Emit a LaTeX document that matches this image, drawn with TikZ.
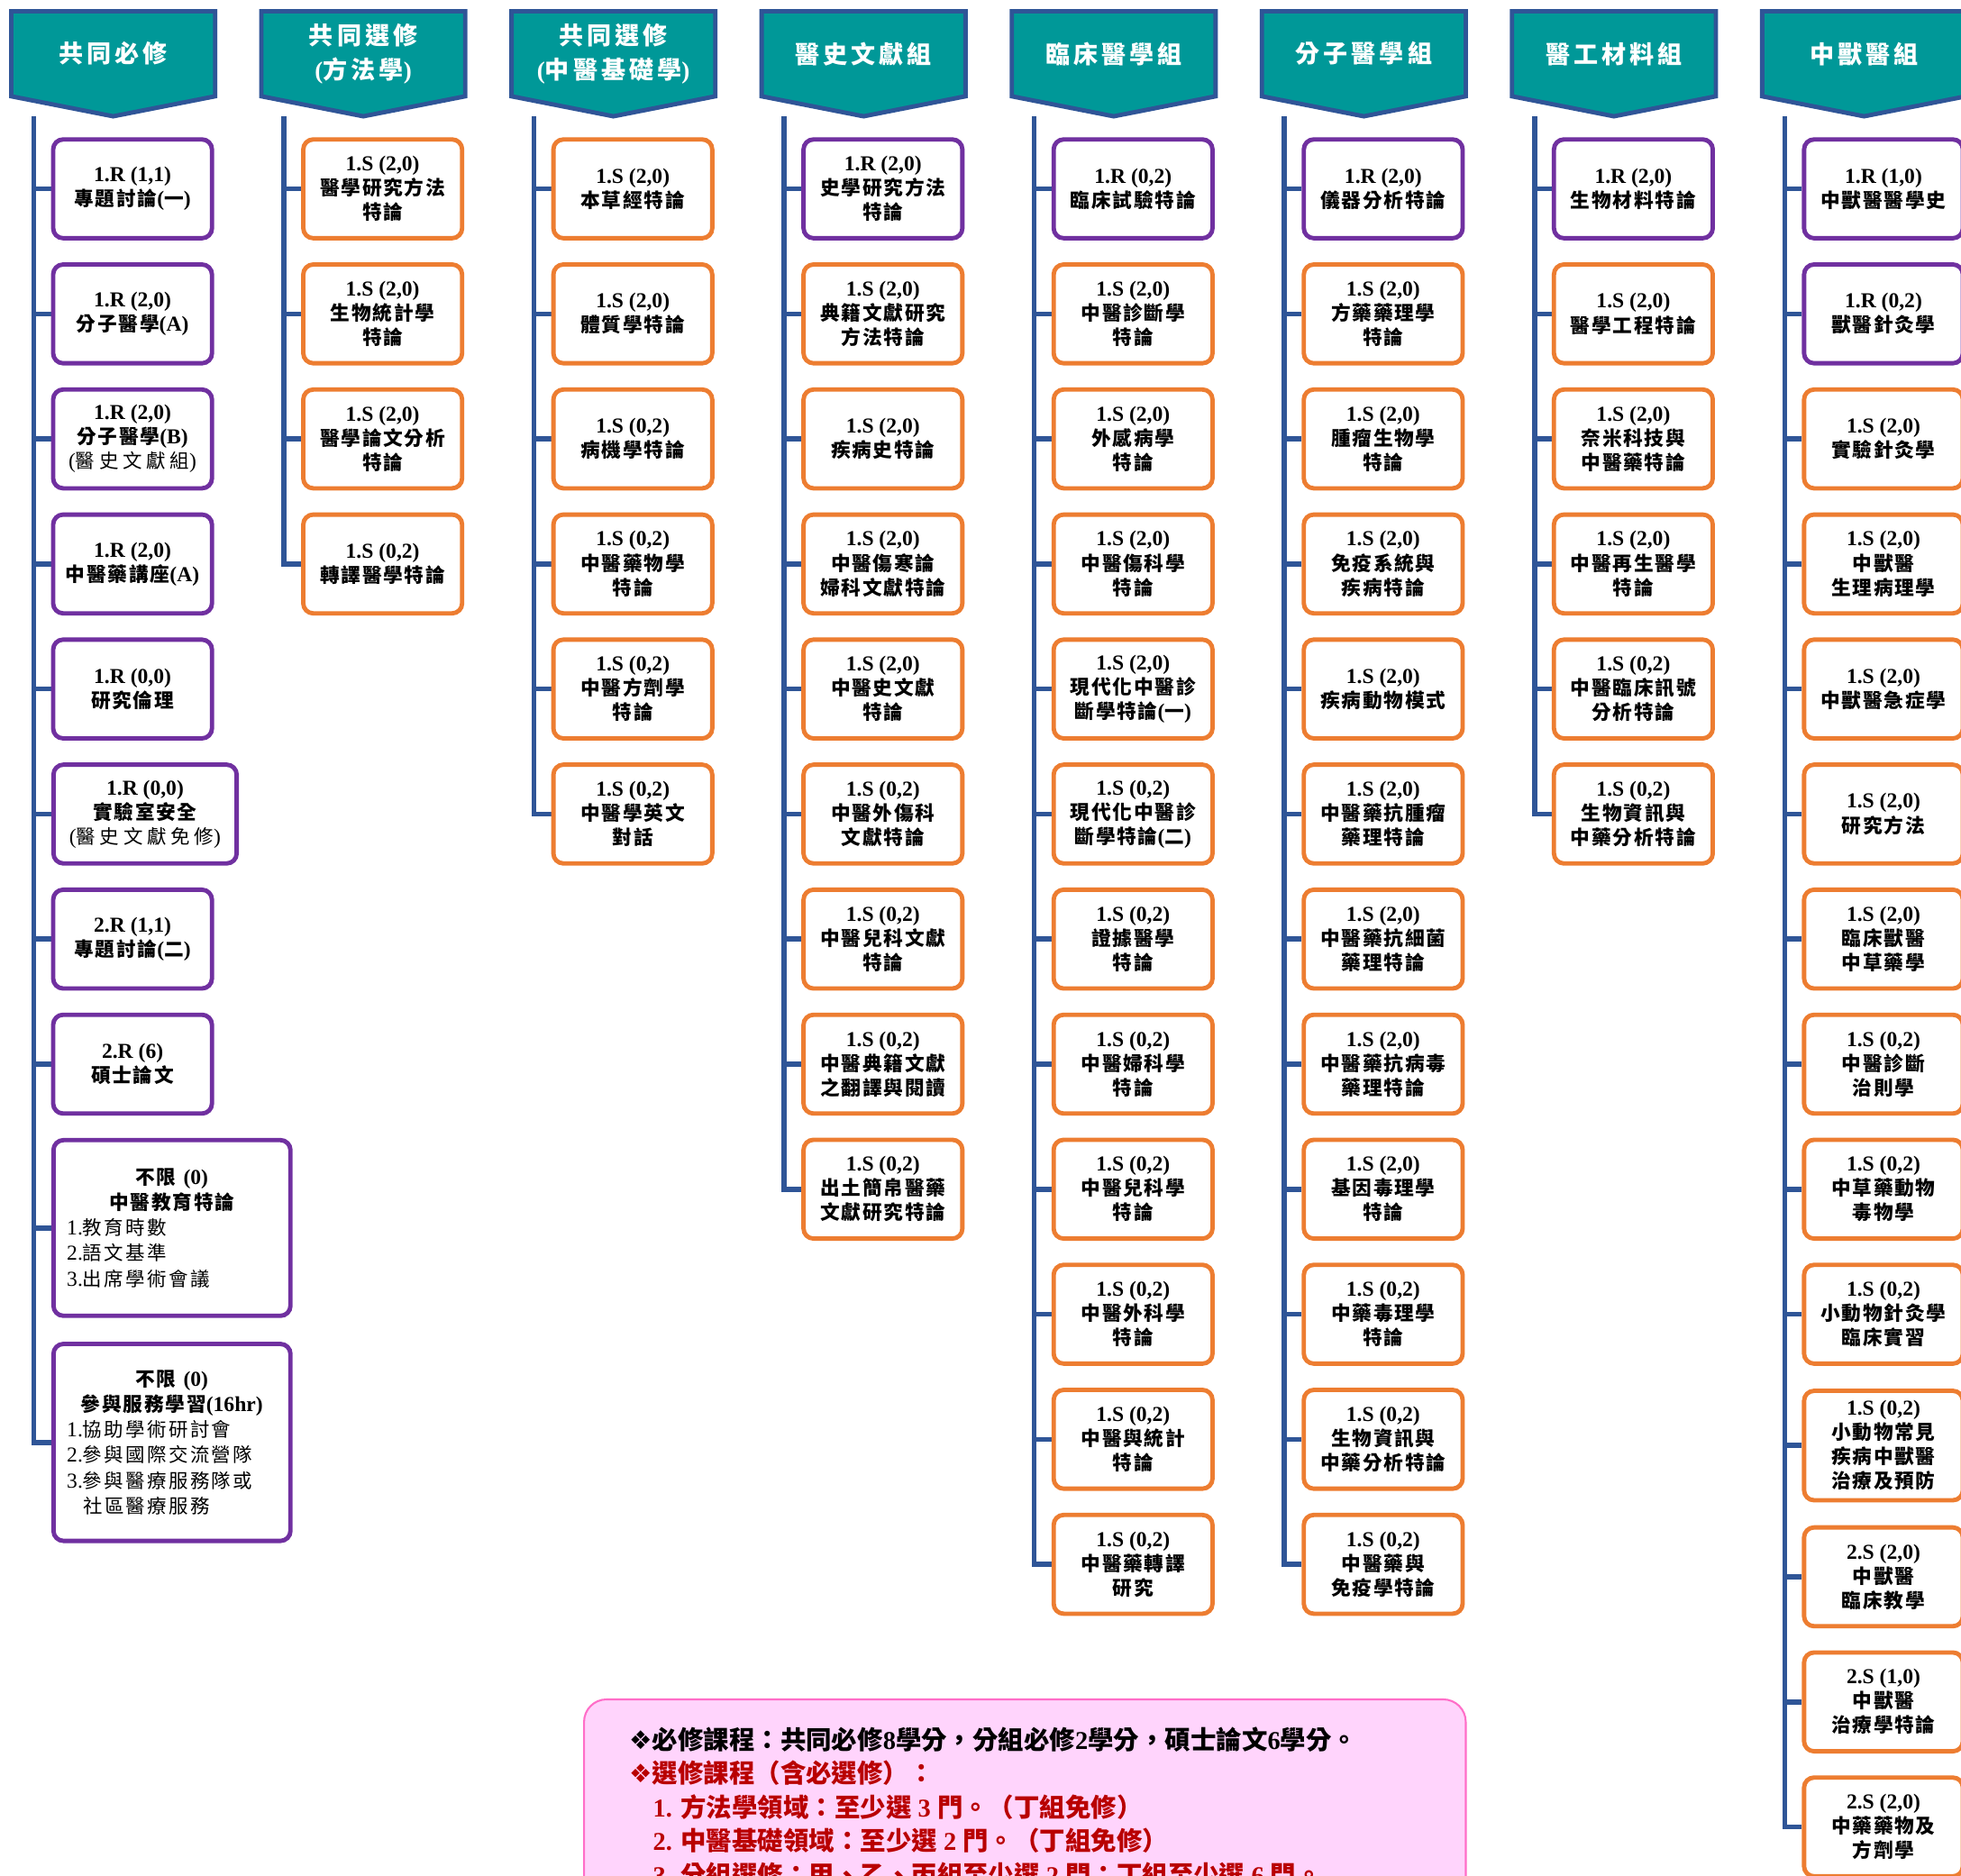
\documentclass[tikz,border=0pt]{standalone}
\usepackage{fontspec}
\setmainfont{Liberation Serif}
\newfontfamily\cjk{Noto Sans CJK TC}[Scale=0.92,LetterSpace=8]
\newfontfamily\cjkw{Noto Sans CJK TC}[Scale=0.91,LetterSpace=11]
\newfontfamily\cjkx{Noto Sans CJK TC}[Scale=0.91,LetterSpace=22]
\newfontfamily\cjkh{Noto Sans CJK TC}[LetterSpace=15]
\newfontfamily\cjkn{Noto Sans CJK TC}
\newfontfamily\symf{DejaVu Sans}
\def\mycjk{\cjk}
\XeTeXinterchartokenstate=1
\newXeTeXintercharclass\CJKcls
\newcount\tmpc
\tmpc="2E80
\loop\ifnum\tmpc<"A000 \XeTeXcharclass\tmpc=\CJKcls \advance\tmpc by 1 \repeat
\tmpc="F900
\loop\ifnum\tmpc<"FB00 \XeTeXcharclass\tmpc=\CJKcls \advance\tmpc by 1 \repeat
\tmpc="FF00
\loop\ifnum\tmpc<"FFF0 \XeTeXcharclass\tmpc=\CJKcls \advance\tmpc by 1 \repeat
\XeTeXinterchartoks 0 \CJKcls={\mycjk}
\XeTeXinterchartoks 4095 \CJKcls={\mycjk}
\XeTeXinterchartoks \CJKcls 0={\rmfamily}
\XeTeXinterchartoks \CJKcls 4095={\rmfamily}

\pgfdeclarelayer{bg}
\pgfsetlayers{bg,main}

\definecolor{hdrteal}{RGB}{0,152,152}
\definecolor{hdrblue}{RGB}{47,85,151}
\definecolor{purp}{RGB}{112,48,160}
\definecolor{orng}{RGB}{237,125,49}
\definecolor{pinkfill}{RGB}{255,212,252}
\definecolor{pinkline}{RGB}{255,110,200}
\definecolor{notered}{RGB}{185,0,0}

\newcommand\hdrfont{\def\mycjk{\cjkh}\fontsize{19.5}{27}\selectfont\bfseries}
\newcommand\crsfont{\fontsize{17}{19.5}\selectfont\bfseries}
\newcommand\bigfont{\fontsize{17}{20.3}\selectfont\bfseries}
\newcommand\notefont{\def\mycjk{\cjkn}\fontsize{20.5}{27}\selectfont\bfseries}
\newcommand\lst{\mdseries\def\mycjk{\cjkw}}
\newcommand\sub{\mdseries\def\mycjk{\cjkx}}

\newcommand\crsR[4]{\node[req] (#1) at (#2,#3) {#4};}
\newcommand\crsS[4]{\node[ele] (#1) at (#2,#3) {#4};}
\newcommand\hdrbox[4]{%
  \draw[hdr] (#2,9) -- ++(163,0) -- ++(0,68) -- ++(-81.5,16) -- ++(-81.5,-16) -- cycle;
  \node[hdrtxt] (#1) at ({#2+81.5},43) {#3};
  \coordinate (#4) at ({#2+18},93);}

\begin{document}
\begin{tikzpicture}[x=1pt,y=-1pt,
  hdr/.style={draw=hdrblue, fill=hdrteal, line width=3.5pt, line join=miter},
  hdrtxt/.style={text=white, align=center, font=\hdrfont, inner sep=0pt},
  spine/.style={draw=hdrblue, line width=4pt},
  course/.style={line width=3.5pt, rounded corners=8pt, fill=white,
    minimum width=127pt, minimum height=79pt, align=center, inner sep=1pt,
    font=\crsfont, text=black},
  req/.style={course, draw=purp},
  ele/.style={course, draw=orng},
  notebox/.style={draw=pinkline, fill=pinkfill, line width=1.5pt, rounded corners=18pt,
    minimum width=705pt, minimum height=240pt, inner sep=0pt},
  notetxt/.style={anchor=base west, inner sep=0pt, font=\notefont},
]
\useasboundingbox (0,0) rectangle (1568,1500);

% headers
\hdrbox{hA}{9}{共同必修}{sA}
\hdrbox{hB}{209}{共同選修\\(方法學)}{sB}
\hdrbox{hC}{409}{共同選修\\(中醫基礎學)}{sC}
\hdrbox{hD}{609}{醫史文獻組}{sD}
\hdrbox{hE}{809}{臨床醫學組}{sE}
\hdrbox{hF}{1009}{分子醫學組}{sF}
\hdrbox{hG}{1209}{醫工材料組}{sG}
\hdrbox{hH}{1409}{中獸醫組}{sH}

% column 1
\crsR{a1}{106}{151}{1.R (1,1)\\專題討論(一)}
\crsR{a2}{106}{251}{1.R (2,0)\\分子醫學(A)}
\crsR{a3}{106}{351}{1.R (2,0)\\分子醫學(B)\\{\sub (醫史文獻組)}}
\crsR{a4}{106}{451}{1.R (2,0)\\中醫藥講座(A)}
\crsR{a5}{106}{551}{1.R (0,0)\\研究倫理}
\node[req, minimum width=146.5pt] (a6) at (116,651) {1.R (0,0)\\實驗室安全\\{\sub (醫史文獻免修)}};
\crsR{a7}{106}{751}{2.R (1,1)\\專題討論(二)}
\crsR{a8}{106}{851}{2.R (6)\\碩士論文}
\node[req, minimum width=189.5pt, minimum height=140.5pt, text width=168pt, align=left, font=\bigfont] (a9) at (137.5,982)
  {\makebox[\linewidth]{不限 (0)}\\\makebox[\linewidth]{中醫教育特論}\\{\lst 1.教育時數\\2.語文基準\\3.出席學術會議}};
\node[req, minimum width=189.5pt, minimum height=157.5pt, text width=168pt, align=left, font=\bigfont] (a10) at (137.5,1153.5)
  {\makebox[\linewidth]{不限 (0)}\\\makebox[\linewidth]{參與服務學習(16hr)}\\{\lst 1.協助學術研討會\\2.參與國際交流營隊\\3.參與醫療服務隊或\\\hspace*{13pt}社區醫療服務}};

% column 2
\crsS{b1}{306}{151}{1.S (2,0)\\醫學研究方法\\特論}
\crsS{b2}{306}{251}{1.S (2,0)\\生物統計學\\特論}
\crsS{b3}{306}{351}{1.S (2,0)\\醫學論文分析\\特論}
\crsS{b4}{306}{451}{1.S (0,2)\\轉譯醫學特論}

% column 3
\crsS{c1}{506}{151}{1.S (2,0)\\本草經特論}
\crsS{c2}{506}{251}{1.S (2,0)\\體質學特論}
\crsS{c3}{506}{351}{1.S (0,2)\\病機學特論}
\crsS{c4}{506}{451}{1.S (0,2)\\中醫藥物學\\特論}
\crsS{c5}{506}{551}{1.S (0,2)\\中醫方劑學\\特論}
\crsS{c6}{506}{651}{1.S (0,2)\\中醫學英文\\對話}

% column 4
\crsR{d1}{706}{151}{1.R (2,0)\\史學研究方法\\特論}
\crsS{d2}{706}{251}{1.S (2,0)\\典籍文獻研究\\方法特論}
\crsS{d3}{706}{351}{1.S (2,0)\\疾病史特論}
\crsS{d4}{706}{451}{1.S (2,0)\\中醫傷寒論\\婦科文獻特論}
\crsS{d5}{706}{551}{1.S (2,0)\\中醫史文獻\\特論}
\crsS{d6}{706}{651}{1.S (0,2)\\中醫外傷科\\文獻特論}
\crsS{d7}{706}{751}{1.S (0,2)\\中醫兒科文獻\\特論}
\crsS{d8}{706}{851}{1.S (0,2)\\中醫典籍文獻\\之翻譯與閱讀}
\crsS{d9}{706}{951}{1.S (0,2)\\出土簡帛醫藥\\文獻研究特論}

% column 5
\crsR{e1}{906}{151}{1.R (0,2)\\臨床試驗特論}
\crsS{e2}{906}{251}{1.S (2,0)\\中醫診斷學\\特論}
\crsS{e3}{906}{351}{1.S (2,0)\\外感病學\\特論}
\crsS{e4}{906}{451}{1.S (2,0)\\中醫傷科學\\特論}
\crsS{e5}{906}{551}{1.S (2,0)\\現代化中醫診\\斷學特論(一)}
\crsS{e6}{906}{651}{1.S (0,2)\\現代化中醫診\\斷學特論(二)}
\crsS{e7}{906}{751}{1.S (0,2)\\證據醫學\\特論}
\crsS{e8}{906}{851}{1.S (0,2)\\中醫婦科學\\特論}
\crsS{e9}{906}{951}{1.S (0,2)\\中醫兒科學\\特論}
\crsS{e10}{906}{1051}{1.S (0,2)\\中醫外科學\\特論}
\crsS{e11}{906}{1151}{1.S (0,2)\\中醫與統計\\特論}
\crsS{e12}{906}{1251}{1.S (0,2)\\中醫藥轉譯\\研究}

% column 6
\crsR{f1}{1106}{151}{1.R (2,0)\\儀器分析特論}
\crsS{f2}{1106}{251}{1.S (2,0)\\方藥藥理學\\特論}
\crsS{f3}{1106}{351}{1.S (2,0)\\腫瘤生物學\\特論}
\crsS{f4}{1106}{451}{1.S (2,0)\\免疫系統與\\疾病特論}
\crsS{f5}{1106}{551}{1.S (2,0)\\疾病動物模式}
\crsS{f6}{1106}{651}{1.S (2,0)\\中醫藥抗腫瘤\\藥理特論}
\crsS{f7}{1106}{751}{1.S (2,0)\\中醫藥抗細菌\\藥理特論}
\crsS{f8}{1106}{851}{1.S (2,0)\\中醫藥抗病毒\\藥理特論}
\crsS{f9}{1106}{951}{1.S (2,0)\\基因毒理學\\特論}
\crsS{f10}{1106}{1051}{1.S (0,2)\\中藥毒理學\\特論}
\crsS{f11}{1106}{1151}{1.S (0,2)\\生物資訊與\\中藥分析特論}
\crsS{f12}{1106}{1251}{1.S (0,2)\\中醫藥與\\免疫學特論}

% column 7
\crsR{g1}{1306}{151}{1.R (2,0)\\生物材料特論}
\crsS{g2}{1306}{251}{1.S (2,0)\\醫學工程特論}
\crsS{g3}{1306}{351}{1.S (2,0)\\奈米科技與\\中醫藥特論}
\crsS{g4}{1306}{451}{1.S (2,0)\\中醫再生醫學\\特論}
\crsS{g5}{1306}{551}{1.S (0,2)\\中醫臨床訊號\\分析特論}
\crsS{g6}{1306}{651}{1.S (0,2)\\生物資訊與\\中藥分析特論}

% column 8
\crsR{h1}{1506}{151}{1.R (1,0)\\中獸醫醫學史}
\crsR{h2}{1506}{251}{1.R (0,2)\\獸醫針灸學}
\crsS{h3}{1506}{351}{1.S (2,0)\\實驗針灸學}
\crsS{h4}{1506}{451}{1.S (2,0)\\中獸醫\\生理病理學}
\crsS{h5}{1506}{551}{1.S (2,0)\\中獸醫急症學}
\crsS{h6}{1506}{651}{1.S (2,0)\\研究方法}
\crsS{h7}{1506}{751}{1.S (2,0)\\臨床獸醫\\中草藥學}
\crsS{h8}{1506}{851}{1.S (0,2)\\中醫診斷\\治則學}
\crsS{h9}{1506}{951}{1.S (0,2)\\中草藥動物\\毒物學}
\crsS{h10}{1506}{1051}{1.S (0,2)\\小動物針灸學\\臨床實習}
\node[ele, minimum height=87.5pt] (h11) at (1506,1156) {1.S (0,2)\\小動物常見\\疾病中獸醫\\治療及預防};
\crsS{h12}{1506}{1261}{2.S (2,0)\\中獸醫\\臨床教學}
\crsS{h13}{1506}{1361}{2.S (1,0)\\中獸醫\\治療學特論}
\crsS{h14}{1506}{1461}{2.S (2,0)\\中藥藥物及\\方劑學}

% background, spines and branches
\begin{pgfonlayer}{bg}
\fill[white] (0,0) rectangle (1568,1500);
\foreach \k in {1,...,10}{\draw[spine] (sA) |- (a\k.west);}
\foreach \k in {1,...,4}{\draw[spine] (sB) |- (b\k.west);}
\foreach \k in {1,...,6}{\draw[spine] (sC) |- (c\k.west);}
\foreach \k in {1,...,9}{\draw[spine] (sD) |- (d\k.west);}
\foreach \k in {1,...,12}{\draw[spine] (sE) |- (e\k.west);}
\foreach \k in {1,...,12}{\draw[spine] (sF) |- (f\k.west);}
\foreach \k in {1,...,6}{\draw[spine] (sG) |- (g\k.west);}
\foreach \k in {1,...,14}{\draw[spine] (sH) |- (h\k.west);}
\end{pgfonlayer}

% note
\node[notebox] (note) at (819.5,1479) {};
\node[notetxt] (n1) at (503,1399) {{\mdseries\symf ❖}必修課程：共同必修8學分，分組必修2學分，碩士論文6學分。};
\node[notetxt, text=notered] (n2) at (503,1426) {{\mdseries\symf ❖}選修課程（含必選修）：};
\node[notetxt, text=notered] (n3) at (522,1453) {1. 方法學領域：至少選 3 門。（丁組免修）};
\node[notetxt, text=notered] (n4) at (522,1480) {2. 中醫基礎領域：至少選 2 門。（丁組免修）};
\node[notetxt, text=notered] (n5) at (522,1507) {3. 分組選修：甲、乙、丙組至少選 2 門；丁組至少選 6 門。};
\end{tikzpicture}
\end{document}
